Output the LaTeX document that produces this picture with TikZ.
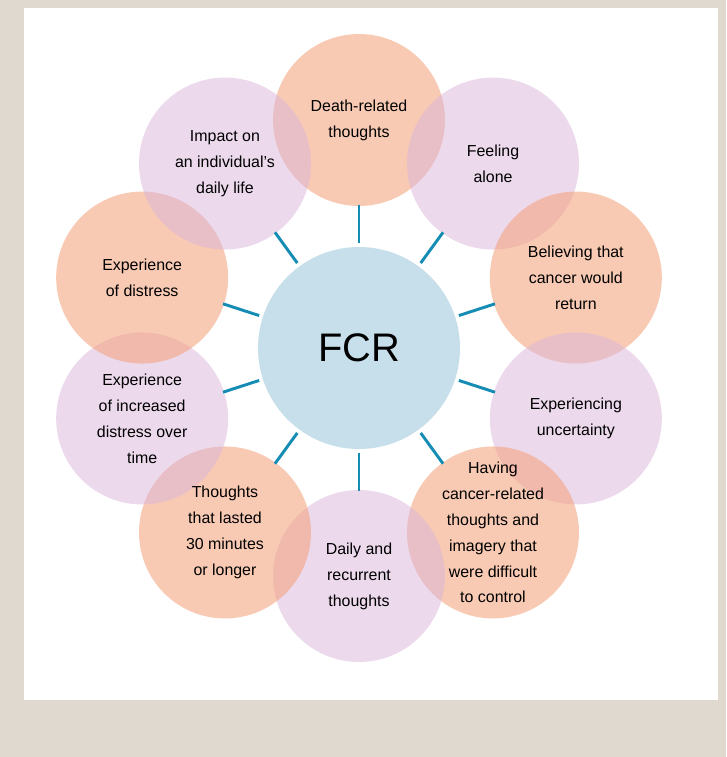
\documentclass[tikz,border=0pt]{standalone}
\usepackage{fontspec}
\setmainfont{Liberation Sans}
\usetikzlibrary{positioning, calc}
\definecolor{bgbeige}{RGB}{224,217,207}
\definecolor{fcrorange}{RGB}{244,160,120}
\definecolor{fcrpurple}{RGB}{218,180,218}
\definecolor{fcrblue}{RGB}{198,223,235}
\definecolor{spoke}{RGB}{20,140,180}

\begin{document}
\begin{tikzpicture}[%
    x=0.02646cm, y=-0.02646cm,
    every node/.style={%
      font=\fontsize{12}{19.5}\selectfont,
      text=black,
      text centered,
      align=center
    },
    orange/.style={circle, fill=fcrorange, fill opacity=0.55, minimum size=4.55cm},
    purple/.style={circle, fill=fcrpurple, fill opacity=0.5, minimum size=4.55cm},
    link/.style={draw=spoke, line width=2.2pt}
  ]

  \fill[bgbeige] (0,0) rectangle (726,757);
  \fill[white] (24,8) rectangle (718,700);

  % outer circles, clockwise from the top
  \foreach \i/\a/\s in {1/90/orange, 2/126/purple, 3/162/orange, 4/198/purple, 5/234/orange,
                        6/270/purple, 7/306/orange, 8/342/purple, 9/18/orange, 10/54/purple} {
    \node[\s] (c\i) at ($(359,348)+(\a:-228)$) {};
  }

  % labels
  \node (t1) at (c1) {Death-related\\thoughts};
  \node (t2) at (c2) {Feeling\\alone};
  \node (t3) at (c3) {Believing that\\cancer would\\return};
  \node (t4) at (c4) {Experiencing\\uncertainty};
  \node (t5) at (c5) {Having\\cancer-related\\thoughts and\\imagery that\\were difficult\\to control};
  \node (t6) at (c6) {Daily and\\recurrent\\thoughts};
  \node (t7) at (c7) {Thoughts\\that lasted\\30 minutes\\or longer};
  \node (t8) at (c8) {Experience\\of increased\\distress over\\time};
  \node (t9) at (c9) {Experience\\of distress};
  \node (t10) at (c10) {Impact on\\an individual’s\\daily life};

  \node[circle, fill=fcrblue, minimum size=5.345cm, font=\fontsize{30}{34}\selectfont] (fcr) at (359,348) {FCR};

  % spokes
  \foreach \i in {1,...,10} {
    \coordinate (s\i) at ($(fcr.center)!105/228!(c\i.center)$);
    \coordinate (e\i) at ($(fcr.center)!143/228!(c\i.center)$);
    \draw[link] (s\i) -- (e\i);
  }

\end{tikzpicture}
\end{document}
